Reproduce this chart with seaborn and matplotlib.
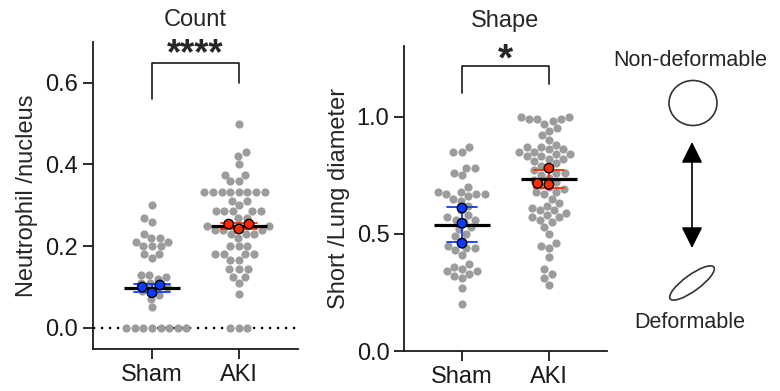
import matplotlib
matplotlib.use("Agg")
import matplotlib.pyplot as plt
import numpy as np
import pandas as pd
import seaborn as sns
from matplotlib.patches import Ellipse

groups = ["Sham", "AKI"]

# Count panel: neutrophil per nucleus, one value per field
count_sham = [0.30, 0.27, 0.26, 0.23, 0.22, 0.22, 0.21, 0.21, 0.20, 0.20, 0.20,
              0.18, 0.18, 0.17, 0.13, 0.13, 0.125, 0.12, 0.11, 0.11, 0.10, 0.10,
              0.09, 0.09, 0.08, 0.07, 0.05,
              0.0, 0.0, 0.0, 0.0, 0.0, 0.0, 0.0, 0.0]
count_aki = [0.50, 0.43, 0.42, 0.40, 0.375, 0.375, 0.36, 0.36,
             0.333, 0.333, 0.333, 0.333, 0.333, 0.333, 0.333, 0.333,
             0.31, 0.31, 0.30, 0.286, 0.286, 0.286, 0.286, 0.286, 0.27, 0.27,
             0.25, 0.25, 0.25, 0.25, 0.24, 0.24, 0.24, 0.23, 0.23, 0.23, 0.22,
             0.20, 0.20, 0.20, 0.18, 0.18, 0.18, 0.18, 0.167, 0.167,
             0.143, 0.143, 0.143, 0.125, 0.125, 0.11, 0.083, 0.0, 0.0, 0.0]
count_sham_mice = [0.086, 0.105, 0.100]
count_aki_mice = [0.242, 0.254, 0.254]

# Shape panel: short / long diameter
shape_sham = [0.87, 0.85, 0.85, 0.78, 0.78, 0.76, 0.75, 0.70, 0.68, 0.68, 0.67,
              0.67, 0.67, 0.66, 0.65, 0.64, 0.62, 0.60, 0.58, 0.57, 0.56, 0.56,
              0.55, 0.53, 0.52, 0.50, 0.49, 0.47, 0.45, 0.44, 0.44, 0.43, 0.41,
              0.37, 0.36, 0.35, 0.34, 0.34, 0.33, 0.32, 0.31, 0.27, 0.20]
shape_aki = [1.00, 1.00, 0.99, 0.99, 0.99, 0.98, 0.97, 0.95, 0.94,
             0.92, 0.90, 0.88, 0.87, 0.87, 0.86, 0.86, 0.85, 0.85, 0.84, 0.84,
             0.83, 0.83, 0.82, 0.82, 0.81, 0.80, 0.79, 0.78, 0.77, 0.76, 0.76,
             0.75, 0.74, 0.73, 0.72, 0.71, 0.70, 0.69, 0.68, 0.68, 0.67, 0.65,
             0.63, 0.62, 0.61, 0.60, 0.60, 0.59, 0.58, 0.57, 0.57, 0.56, 0.55,
             0.53, 0.50, 0.46, 0.45, 0.44, 0.40, 0.35, 0.33, 0.31, 0.28]
shape_sham_mice = [0.61, 0.545, 0.46]
shape_aki_mice = [0.78, 0.71, 0.715]

GRAY = "#9c9c9c"
palette = {"Sham": "#0a3cff", "AKI": "#ff2a00"}


def long_df(a, b):
    return pd.DataFrame({"group": ["Sham"] * len(a) + ["AKI"] * len(b),
                         "value": list(a) + list(b)})


sns.set_theme(style="ticks")
plt.rcParams["font.family"] = ["Liberation Sans", "DejaVu Sans"]
plt.rcParams["axes.linewidth"] = 1.3
plt.rcParams["axes.edgecolor"] = "#1a1a1a"

fig = plt.figure(figsize=(7.8, 3.91), dpi=100)
ax1 = fig.add_axes([0.119, 0.107, 0.263, 0.786])
ax2 = fig.add_axes([0.518, 0.102, 0.260, 0.780])


def panel(ax, cells, mice, cap):
    sns.swarmplot(data=cells, x="group", y="value", order=groups, color=GRAY,
                  size=5.9, ax=ax, zorder=1)
    sns.pointplot(data=mice, x="group", y="value", order=groups, hue="group",
                  palette=palette, errorbar="sd", capsize=cap, linestyle="none",
                  markersize=0, err_kws={"linewidth": 1.3}, legend=False, ax=ax)
    sns.pointplot(data=mice, x="group", y="value", order=groups, color="black",
                  errorbar=None, linestyle="none", marker="_", markersize=41,
                  markeredgewidth=2.3, ax=ax)
    sns.swarmplot(data=mice, x="group", y="value", order=groups, hue="group",
                  palette=palette, size=6.8, edgecolor="black", linewidth=1.0,
                  legend=False, ax=ax, zorder=5)
    ax.set_xlabel("")
    ax.tick_params(axis="both", length=7, width=1.3, labelsize=17,
                   colors="#1a1a1a")
    sns.despine(ax=ax)


# Count
panel(ax1, long_df(count_sham, count_aki),
      long_df(count_sham_mice, count_aki_mice), 0.42)
ax1.axhline(0, color="black", lw=1.6, ls=(0, (1, 2.6)), zorder=0.5)
ax1.set_xlim(-0.68, 1.68)
ax1.set_ylim(-0.052, 0.70)
ax1.set_yticks([0.0, 0.2, 0.4, 0.6])
ax1.set_yticklabels(["0.0", "0.2", "0.4", "0.6"])
ax1.set_ylabel("Neutrophil /nucleus", fontsize=17, labelpad=5)
ax1.plot([0, 0, 1, 1], [0.56, 0.649, 0.649, 0.60], color="#1a1a1a", lw=1.2,
         clip_on=False)
ax1.text(0.5, 0.646, "****", ha="center", va="baseline", fontsize=26,
         fontweight="bold", clip_on=False)
ax1.text(0.5, 1.072, "Count", ha="center", va="center", fontsize=17,
         transform=ax1.get_xaxis_transform())

# Shape
panel(ax2, long_df(shape_sham, shape_aki),
      long_df(shape_sham_mice, shape_aki_mice), 0.35)
ax2.set_xlim(-0.667, 1.667)
ax2.set_ylim(0, 1.3)
ax2.set_yticks([0.0, 0.5, 1.0])
ax2.set_yticklabels(["0.0", "0.5", "1.0"])
ax2.set_ylabel("Short /Lung diameter", fontsize=17, labelpad=5)
ax2.plot([0, 0, 1, 1], [1.10, 1.214, 1.214, 1.14], color="#1a1a1a", lw=1.2,
         clip_on=False)
ax2.text(0.5, 1.197, "*", ha="center", va="baseline", fontsize=28,
         fontweight="bold", clip_on=False)
ax2.text(0.5, 1.082, "Shape", ha="center", va="center", fontsize=17,
         transform=ax2.get_xaxis_transform())

# schematic
ax3 = fig.add_axes([610 / 780, 0, 170 / 780, 1])
ax3.set_xlim(610, 780)
ax3.set_ylim(391, 0)
ax3.axis("off")
ax3.text(690, 60, "Non-deformable", ha="center", va="center", fontsize=15.5)
ax3.add_patch(Ellipse((693, 103), 48, 45, fill=False, ec="#333333", lw=1.2))
ax3.annotate("", xy=(692, 142), xytext=(692, 248),
             arrowprops=dict(arrowstyle="<|-|>,head_length=1.3,head_width=0.65",
                             color="black", lw=1.2, shrinkA=0, shrinkB=0,
                             mutation_scale=10))
ax3.add_patch(Ellipse((692, 283), 54, 16, angle=-36, fill=False, ec="#333333",
                      lw=1.2))
ax3.text(690, 323, "Deformable", ha="center", va="center", fontsize=15.5)

fig.savefig("out.png", dpi=100)
